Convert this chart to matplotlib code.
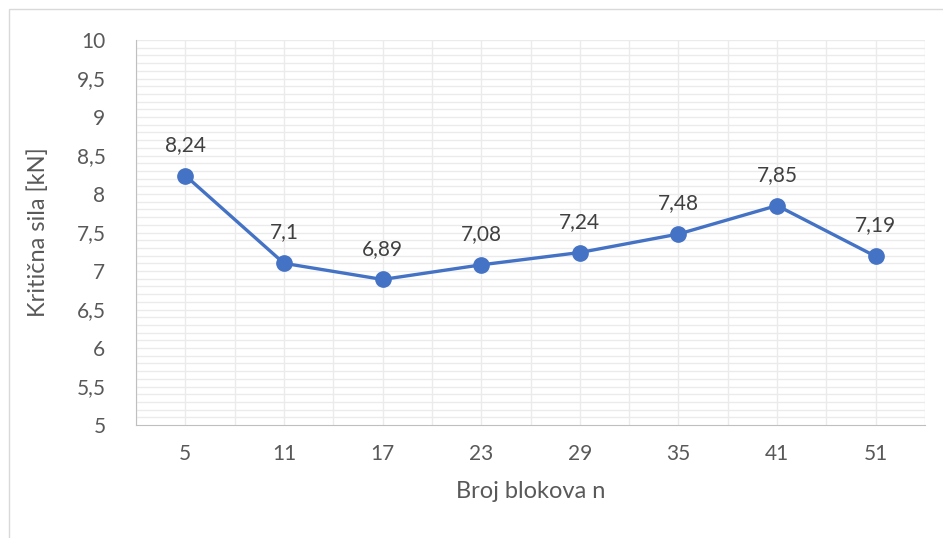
import matplotlib.pyplot as plt
from matplotlib.patches import Rectangle
import numpy as np

# Podaci
blokovi = ['5', '11', '17', '23', '29', '35', '41', '51']
sila = [8.24, 7.1, 6.89, 7.08, 7.24, 7.48, 7.85, 7.19]
oznake = ['8,24', '7,1', '6,89', '7,08', '7,24', '7,48', '7,85', '7,19']
y_ticks = [5, 5.5, 6, 6.5, 7, 7.5, 8, 8.5, 9, 9.5, 10]

plt.rcParams['font.family'] = ['Lato', 'DejaVu Sans']
tekst = '#595959'
plava = '#4472C4'

fig = plt.figure(figsize=(9.43, 5.38), dpi=100)
ax = fig.add_axes([136 / 943, 1 - 425 / 538, (925 - 136) / 943, (425 - 40) / 538])

# okvir grafikona
fig.patches.append(Rectangle((9 / 943, -0.1), 1.2, (538 - 9) / 538 + 0.1,
                             transform=fig.transFigure, fill=False,
                             edgecolor='#D9D9D9', linewidth=1))

x = np.arange(len(blokovi))
ax.set_xlim(-0.5, len(blokovi) - 0.5)
ax.set_ylim(5, 10)

# mreža
for yv in np.arange(5.1, 10.01, 0.1):
    ax.axhline(yv, color='#EBEBEB', linewidth=1, zorder=0)
for xv in np.arange(-0.5, len(blokovi), 0.5):
    ax.axvline(xv, color='#EBEBEB', linewidth=1, zorder=0)

ax.plot(x, sila, color=plava, linewidth=2.4, marker='o', markersize=11,
        zorder=3)
for xi, yi, t in zip(x, sila, oznake):
    ax.annotate(t, (xi, yi), xytext=(0, 15), textcoords='offset points',
                ha='center', va='bottom', fontsize=15, color='#404040')

ax.set_xticks(x)
ax.set_xticklabels(blokovi)
ax.set_yticks(y_ticks)
ax.set_yticklabels([('%g' % v).replace('.', ',') for v in y_ticks])
ax.tick_params(axis='both', length=0, labelsize=15, labelcolor=tekst)
ax.tick_params(axis='x', pad=14)
ax.tick_params(axis='y', pad=22)

for s in ['top', 'right']:
    ax.spines[s].set_visible(False)
ax.spines['left'].set_color('#BFBFBF')
ax.spines['bottom'].set_color('#BFBFBF')

ax.set_xlabel('Broj blokova n', fontsize=17, color=tekst, labelpad=12)
ax.set_ylabel('Kritična sila [kN]', fontsize=17, color=tekst, labelpad=20)

fig.savefig('out.png', dpi=100)
